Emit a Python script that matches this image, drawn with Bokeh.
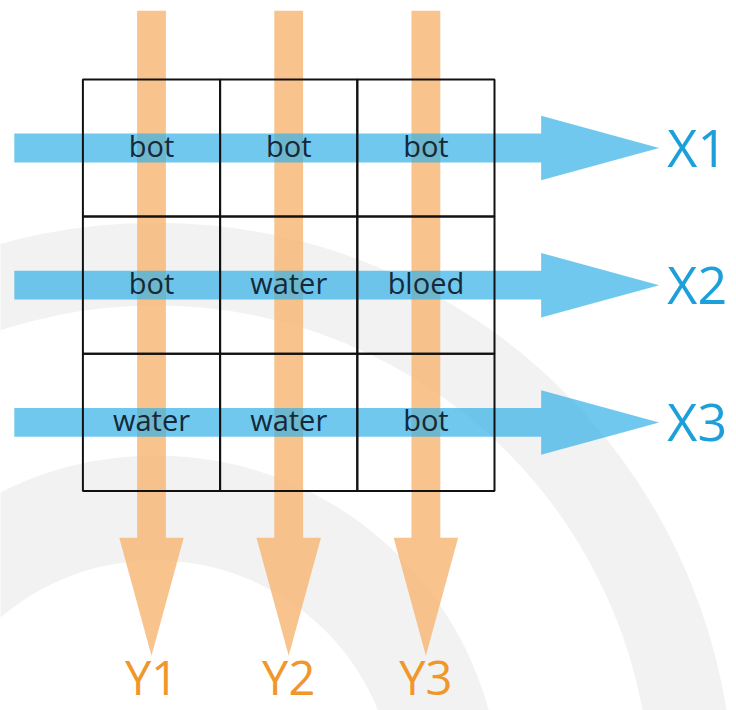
from bokeh.plotting import figure
from bokeh.models import Range1d, ColumnDataSource
from bokeh.core.properties import value
from bokeh.embed import file_html
from bokeh.resources import INLINE

# ---------------- data ----------------
row_labels = ["X1", "X2", "X3"]          # horizontal (blue) arrows
col_labels = ["Y1", "Y2", "Y3"]          # vertical (orange) arrows
cell_values = [
    ["bot", "bot", "bot"],
    ["bot", "water", "bloed"],
    ["water", "water", "bot"],
]

# ---------------- layout / style constants (cell units) ----------------
PX = 137.2                      # pixels per cell
FIG_W, FIG_H = 736, 710
X_START = -151.0 / PX
Y_END = 147.5 / PX

SHAFT_START = 1.0               # distance before first cell centre
HEAD_BASE = 2.84
TIP = 3.70
SHAFT_HALF = 0.105
HEAD_HALF = 0.235

XLABEL_X = 3.76
YLABEL_Y = -528.5 / PX          # vertical middle of the Y labels

BLUE = "#33b0e7"
ORANGE = "#f7b978"
BAND_GREY = "#f2f2f2"
TEXT_DARK = "#14293a"
LABEL_BLUE = "#1d9fda"
LABEL_ORANGE = "#f0962a"
FONT = "Open Sans"

n_rows = len(row_labels)
n_cols = len(col_labels)
row_y = [-i for i in range(n_rows)]
col_x = [j for j in range(n_cols)]

p = figure(width=FIG_W, height=FIG_H,
           x_range=Range1d(X_START, X_START + FIG_W / PX),
           y_range=Range1d(Y_END - FIG_H / PX, Y_END),
           x_axis_type=None, y_axis_type=None,
           output_backend="svg", toolbar_location=None, min_border=0)
p.grid.visible = False
p.outline_line_color = None
p.background_fill_color = "white"
p.border_fill_color = "white"

# ---------------- background decoration: concentric grey bands ----------------
band_cx, band_cy = 0.03, -4.756
p.annulus(x=[band_cx, band_cx], y=[band_cy, band_cy],
          inner_radius=[1.75, 3.61], outer_radius=[2.515, 4.213],
          fill_color=BAND_GREY, line_color=None)

# ---------------- orange vertical arrows ----------------
v_xs, v_ys = [], []
for xc in col_x:
    top = SHAFT_START
    v_xs.append([xc - SHAFT_HALF, xc - SHAFT_HALF, xc - HEAD_HALF, xc,
                 xc + HEAD_HALF, xc + SHAFT_HALF, xc + SHAFT_HALF])
    v_ys.append([top, -HEAD_BASE, -HEAD_BASE, -TIP, -HEAD_BASE, -HEAD_BASE, top])
p.patches(xs=v_xs, ys=v_ys, fill_color=ORANGE, fill_alpha=0.85, line_color=None)

# ---------------- blue horizontal arrows ----------------
h_xs, h_ys = [], []
for yc in row_y:
    s = -SHAFT_START
    h_xs.append([s, HEAD_BASE, HEAD_BASE, TIP, HEAD_BASE, HEAD_BASE, s])
    h_ys.append([yc + SHAFT_HALF, yc + SHAFT_HALF, yc + HEAD_HALF, yc,
                 yc - HEAD_HALF, yc - SHAFT_HALF, yc - SHAFT_HALF])
p.patches(xs=h_xs, ys=h_ys, fill_color=BLUE, fill_alpha=0.7, line_color=None)

# ---------------- grid of cells ----------------
cx, cy, ct = [], [], []
for i in range(n_rows):
    for j in range(n_cols):
        cx.append(col_x[j])
        cy.append(row_y[i])
        ct.append(cell_values[i][j])
cells = ColumnDataSource(dict(x=cx, y=cy, t=ct))
p.rect(x="x", y="y", width=1, height=1, source=cells,
       fill_color=None, line_color="#111111", line_width=2)
p.text(x="x", y="y", text="t", source=cells, y_offset=-3,
       text_font=value(FONT), text_font_size="29px", text_color=TEXT_DARK,
       text_align="center", text_baseline="middle")

# ---------------- arrow labels ----------------
p.text(x=[XLABEL_X] * n_rows, y=row_y, text=row_labels, y_offset=-2,
       text_font=value(FONT), text_font_size="52px", text_color=LABEL_BLUE,
       text_align="left", text_baseline="middle")
p.text(x=col_x, y=[YLABEL_Y] * n_cols, text=col_labels,
       text_font=value(FONT), text_font_size="47px", text_color=LABEL_ORANGE,
       text_align="center", text_baseline="middle")

open("out.html", "w").write(file_html(p, INLINE))
